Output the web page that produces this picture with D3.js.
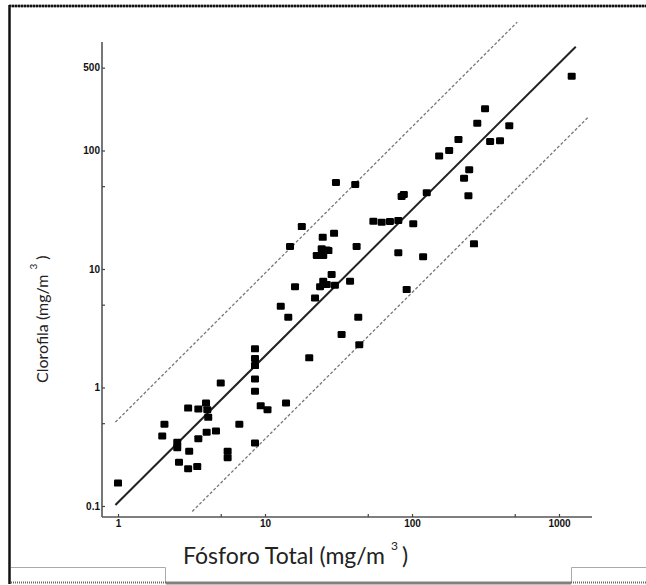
<!DOCTYPE html>
<html>
<head>
<meta charset="utf-8">
<script src="https://cdn.jsdelivr.net/npm/d3@7"></script>
<style>
  html, body { margin: 0; padding: 0; background: #fff; }
  svg { display: block; }
  .tick text { font-family: "Liberation Sans", Arial, sans-serif; font-weight: bold; font-size: 10px; fill: #111; }
  .title { font-family: Lato, "Open Sans", sans-serif; fill: #222; }
</style>
</head>
<body>
<script>
// Total phosphorus (mg/m3) and chlorophyll (mg/m3) per lake
const fosforo = [
  1.0, 2.07, 2.0, 2.53, 2.53, 3.05, 2.6, 3.0, 3.46, 3.0,
  3.52, 3.97, 4.05, 4.11, 3.52, 4.01, 4.64, 5.0, 5.57, 5.57,
  6.69, 8.55, 8.55, 8.55, 8.55, 8.55, 9.35, 10.4, 8.55, 13.9,
  20, 33.2, 43.8, 43.1, 12.8, 14.4, 16.0, 21.9, 28.4, 24.9,
  26.3, 23.7, 29.9, 37.9, 92, 14.8, 17.8, 24.7, 29.5, 24.3,
  26.3, 22.5, 24.9, 27, 42, 30.4, 41.1, 54.6, 62.2, 70.8,
  80.7, 102, 80.7, 119, 85, 88, 126, 264, 242, 226,
  245, 153, 179, 207, 340, 397, 278, 314, 459, 1220
];
const clorofila = [
  0.156, 0.49, 0.39, 0.345, 0.31, 0.29, 0.234, 0.206, 0.215, 0.67,
  0.66, 0.74, 0.65, 0.56, 0.37, 0.42, 0.43, 1.09, 0.29, 0.255,
  0.49, 2.12, 1.76, 1.53, 1.18, 0.93, 0.70, 0.65, 0.34, 0.74,
  1.78, 2.8, 2.3, 3.92, 4.85, 3.92, 7.1, 5.7, 9.0, 7.9,
  7.4, 7.1, 7.3, 7.9, 6.7, 15.5, 22.8, 18.5, 20, 14.8,
  14.5, 13, 13, 14.3, 15.5, 53.7, 51.7, 25.3, 24.8, 25.2,
  25.7, 24.1, 13.7, 12.7, 40.9, 42.5, 44, 16.3, 41.5, 58.4,
  68.7, 90, 100, 124, 119, 121, 170, 225, 162, 424
];

// Fitted relationship and the x5 / /5 envelope (end points of each segment)
const ajusteTP  = [0.96, 1300];
const ajusteChl = [0.102, 751];
const superiorTP  = [0.96, 520];
const superiorChl = [0.51, 1211];
const inferiorTP  = [3.2, 1600];
const inferiorChl = [0.090, 194];

// Axis ticks
const ticksX = [1, 5, 10, 50, 100, 500, 1000];
const rotulosX = [1, 10, 100, 1000];
const ticksY = [0.1, 0.5, 1, 5, 10, 50, 100, 500];
const rotulosY = [0.1, 1, 10, 100, 500];

const W = 646, H = 585;
const svg = d3.select("body").append("svg").attr("width", W).attr("height", H);

// Page frame
const frame = svg.append("g");
frame.append("line").attr("x1", 9.5).attr("x2", 9.5).attr("y1", 5).attr("y2", 584)
  .attr("stroke", "#111").attr("stroke-width", 2.5);
frame.append("line").attr("x1", 9).attr("x2", W).attr("y1", 6).attr("y2", 6)
  .attr("stroke", "#777").attr("stroke-width", 2.5);
frame.append("line").attr("x1", 9).attr("x2", W).attr("y1", 6).attr("y2", 6)
  .attr("stroke", "#111").attr("stroke-width", 2.5).attr("stroke-dasharray", "2,1");
frame.append("line").attr("x1", 166).attr("x2", 571).attr("y1", 583).attr("y2", 583)
  .attr("stroke", "#808080").attr("stroke-width", 3);
// small boxes along the bottom edge
frame.append("path").attr("d", "M11,567.5 H165.5 V582").attr("fill", "none")
  .attr("stroke", "#aaa").attr("stroke-width", 1);
frame.append("line").attr("x1", 11).attr("x2", 166).attr("y1", 582.5).attr("y2", 582.5)
  .attr("stroke", "#666").attr("stroke-width", 2).attr("stroke-dasharray", "1,1");
frame.append("path").attr("d", "M571.5,582 V567.5 H646").attr("fill", "none")
  .attr("stroke", "#aaa").attr("stroke-width", 1);
frame.append("line").attr("x1", 571).attr("x2", W).attr("y1", 582.5).attr("y2", 582.5)
  .attr("stroke", "#666").attr("stroke-width", 2).attr("stroke-dasharray", "1,1");

// Log scales
const x = d3.scaleLog().domain([1, 1000]).range([118, 559]);
const y = d3.scaleLog().domain([0.1, 1000]).range([506, 32]);

const axisX0 = 102, axisX1 = 592, axisY0 = 517, axisY1 = 42;

// Axis lines
svg.append("line").attr("x1", axisX0).attr("x2", axisX0).attr("y1", axisY1).attr("y2", axisY0)
  .attr("stroke", "#555").attr("stroke-width", 1.6);
svg.append("line").attr("x1", axisX0).attr("x2", axisX1).attr("y1", axisY0).attr("y2", axisY0)
  .attr("stroke", "#555").attr("stroke-width", 1.6);

const fmt = d => (d < 1 ? d3.format(".1f")(d) : String(d));

const gx = svg.append("g").attr("transform", `translate(0,${axisY0})`)
  .call(d3.axisBottom(x).tickValues(ticksX).tickSizeInner(-3).tickSizeOuter(0).tickPadding(3)
    .tickFormat(d => rotulosX.includes(d) ? fmt(d) : ""));
gx.select(".domain").remove();
gx.selectAll(".tick line").attr("stroke", "#444").attr("stroke-width", 1.2);

const gy = svg.append("g").attr("transform", `translate(${axisX0},0)`)
  .call(d3.axisLeft(y).tickValues(ticksY).tickSizeInner(-3).tickSizeOuter(0).tickPadding(2)
    .tickFormat(d => rotulosY.includes(d) ? fmt(d) : ""));
gy.select(".domain").remove();
gy.selectAll(".tick line").attr("stroke", "#444").attr("stroke-width", 1.2);

// Regression line and envelope
const linha = d3.line().x(d => x(d[0])).y(d => y(d[1]));
svg.append("path").datum(d3.zip(superiorTP, superiorChl)).attr("d", linha)
  .attr("fill", "none").attr("stroke", "#777").attr("stroke-width", 1.3).attr("stroke-dasharray", "3,2");
svg.append("path").datum(d3.zip(inferiorTP, inferiorChl)).attr("d", linha)
  .attr("fill", "none").attr("stroke", "#777").attr("stroke-width", 1.3).attr("stroke-dasharray", "3,2");
svg.append("path").datum(d3.zip(ajusteTP, ajusteChl)).attr("d", linha)
  .attr("fill", "none").attr("stroke", "#222").attr("stroke-width", 2);

// Lakes
svg.append("g").selectAll("rect").data(d3.zip(fosforo, clorofila)).join("rect")
  .attr("x", d => x(d[0]) - 4).attr("y", d => y(d[1]) - 3.5)
  .attr("width", 8).attr("height", 7).attr("rx", 1.2)
  .attr("fill", "#000");

// Axis titles
const tx = svg.append("text").attr("class", "title").attr("x", 183).attr("y", 564)
  .attr("font-size", 23);
tx.append("tspan").text("Fósforo Total (mg/m");
tx.append("tspan").attr("dy", -14).attr("dx", 6).attr("font-size", 12).text("3");
tx.append("tspan").attr("dy", 14).attr("dx", 4).text(")");

const ty = svg.append("text").attr("class", "title")
  .attr("transform", "translate(48,383) rotate(-90)").attr("font-size", 16);
ty.append("tspan").text("Clorofila (mg/m");
ty.append("tspan").attr("dy", -11).attr("dx", 5).attr("font-size", 10).text("3");
ty.append("tspan").attr("dy", 11).attr("dx", 4).text(")");
</script>
</body>
</html>
